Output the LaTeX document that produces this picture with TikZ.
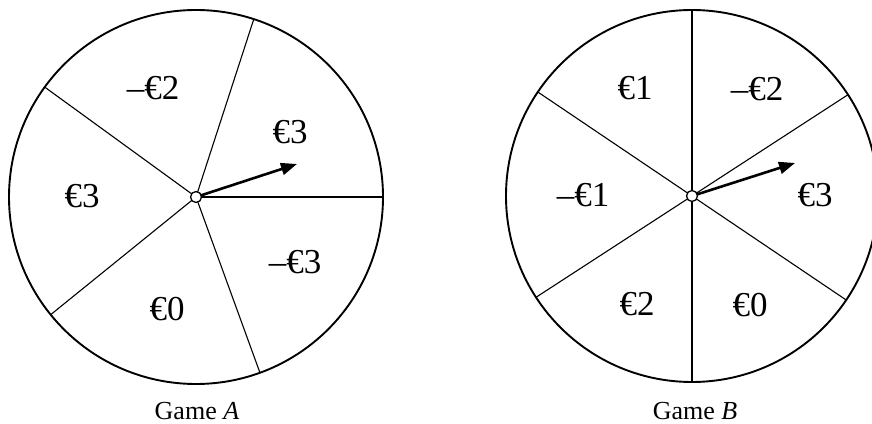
\documentclass[tikz,border=0pt]{standalone}
\usepackage{fontspec}
\setmainfont{Liberation Serif}
\usetikzlibrary{arrows.meta}
\tikzset{
  wheel/.style={circle, draw, line width=1.9pt, minimum size=374pt, inner sep=0pt, outer sep=0pt},
  hub/.style={circle, draw, fill=white, line width=1.3pt, minimum size=11pt, inner sep=0pt, outer sep=0pt},
  spoke/.style={line width=1.1pt},
  pointer/.style={line width=2.6pt, -{Triangle[length=16pt,width=12pt]}},
  amount/.style={font=\fontsize{35}{35}\selectfont, inner sep=0pt},
  caption/.style={font=\fontsize{26}{26}\selectfont, inner sep=0pt}
}
\begin{document}
\begin{tikzpicture}[x=1pt,y=1pt]
\useasboundingbox (0,0) rectangle (872,423);
% Game A
\node[wheel] (wA) at (196,226) {};
\node[hub] (cA) at (196,226) {};
\foreach \a in {0,72.5,144.5,219,290} \draw[spoke] (cA) -- (wA.\a);
\coordinate (tipA) at (297,259);
\draw[pointer] (cA) -- (tipA);
\node[amount] (a1) at (153,335) {–€2};
\node[amount] (a2) at (290,291) {€3};
\node[amount] (a3) at (82,227) {€3};
\node[amount] (a4) at (295,161) {–€3};
\node[amount] (a5) at (167,114) {€0};
\node[caption] (gA) at (197,11.5) {Game \textit{A}};
% Game B
\node[wheel, minimum size=372pt] (wB) at (692,227) {};
\node[hub] (cB) at (692,227) {};
\foreach \a in {90,33.5,146.5,213.5,270,326.5} \draw[spoke] (cB) -- (wB.\a);
\coordinate (tipB) at (795,260);
\draw[pointer] (cB) -- (tipB);
\node[amount] (b1) at (635,335) {€1};
\node[amount] (b2) at (757,334) {–€2};
\node[amount] (b3) at (583,228) {–€1};
\node[amount] (b4) at (815,228) {€3};
\node[amount] (b5) at (637,119) {€2};
\node[amount] (b6) at (750,118) {€0};
\node[caption] (gB) at (695,11.5) {Game \textit{B}};
\end{tikzpicture}
\end{document}
